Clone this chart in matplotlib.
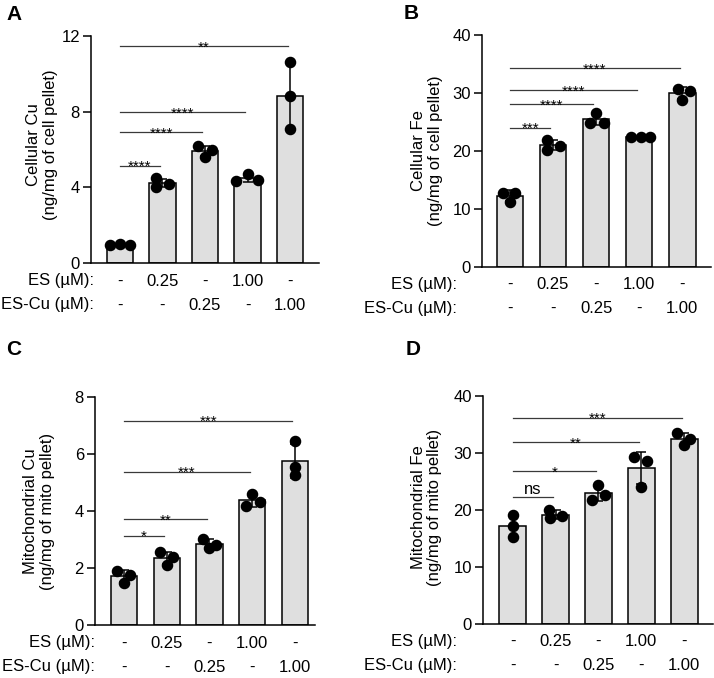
import numpy as np
import matplotlib
matplotlib.use('Agg')
import matplotlib.pyplot as plt
from matplotlib.transforms import ScaledTranslation

plt.rcParams['font.family'] = ['Liberation Sans', 'DejaVu Sans']

# ---------------- data ----------------
es_labels = ['-', '0.25', '-', '1.00', '-']
escu_labels = ['-', '-', '0.25', '-', '1.00']

cell_cu = [[0.95, 0.98, 0.95], [4.48, 4.04, 4.17], [6.18, 5.97, 5.62],
           [4.36, 4.71, 4.39], [10.64, 8.84, 7.07]]
cell_fe = [[12.78, 12.78, 11.23], [21.88, 20.15, 20.9], [26.5, 24.87, 24.87],
           [22.35, 22.4, 22.35], [30.63, 30.4, 28.8]]
mito_cu = [[1.90, 1.76, 1.49], [2.55, 2.38, 2.11], [3.02, 2.81, 2.69],
           [4.60, 4.33, 4.18], [6.44, 5.56, 5.27]]
mito_fe = [[19.07, 17.19, 15.26], [19.95, 18.95, 18.5], [24.34, 22.58, 21.7],
           [29.3, 28.6, 24.05], [33.5, 32.4, 31.4]]

# significance: (comparison bar, line height, label) vs control bar 0
sig_cell_cu = [(1, 5.14, '****'), (2, 6.9, '****'), (3, 7.98, '****'), (4, 11.47, '**')]
sig_cell_fe = [(1, 24.0, '***'), (2, 28.05, '****'), (3, 30.5, '****'), (4, 34.26, '****')]
sig_mito_cu = [(1, 3.14, '*'), (2, 3.71, '**'), (3, 5.37, '***'), (4, 7.17, '***')]
sig_mito_fe = [(1, 22.2, 'ns'), (2, 26.8, '*'), (3, 31.9, '**'), (4, 36.2, '***')]

# horizontal jitter of the individual points (style)
jit_a = [[-0.24, 0, 0.24], [-0.16, -0.16, 0.15], [-0.16, 0.16, 0], [-0.27, 0, 0.24], [0, 0, 0]]
jit_b = [[-0.16, 0.12, 0], [-0.13, -0.13, 0.16], [0, -0.14, 0.19], [-0.2, 0.04, 0.26], [-0.1, 0.19, 0]]
jit_c = [[-0.17, 0.14, 0], [-0.16, 0.14, 0], [-0.16, 0.15, 0], [0, 0.19, -0.14], [0, 0, 0]]
jit_d = [[0, 0, 0], [-0.16, 0.15, -0.14], [0, 0.16, -0.15], [-0.17, 0.14, 0], [-0.16, 0.14, 0]]

W, H = 714, 678
fig = plt.figure(figsize=(W / 100, H / 100), dpi=100)

def rect(left, bottom, right, top):
    return [left / W, 1 - bottom / H, (right - left) / W, (bottom - top) / H]

panels = [
    dict(letter='A', rect=rect(91, 263, 319, 36), xlim=(-0.68, 4.68), ylim=(0, 12),
         yticks=[0, 4, 8, 12], data=cell_cu, jit=jit_a, sig=sig_cell_cu,
         ylabel='Cellular Cu\n(ng/mg of cell pellet)', ylab=(-0.215, 0.52),
         letter_xy=(6, 5), table_dx=3),
    dict(letter='B', rect=rect(482, 266.7, 711, 35), xlim=(-0.65, 4.67), ylim=(0, 40),
         yticks=[0, 10, 20, 30, 40], data=cell_fe, jit=jit_b, sig=sig_cell_fe,
         ylabel='Cellular Fe\n(ng/mg of cell pellet)', ylab=(-0.24, 0.5),
         letter_xy=(404, 4), table_dx=-25),
    dict(letter='C', rect=rect(95, 625, 315, 397), xlim=(-0.68, 4.47), ylim=(0, 8),
         yticks=[0, 2, 4, 6, 8], data=mito_cu, jit=jit_c, sig=sig_mito_cu,
         ylabel='Mitochondrial Cu\n(ng/mg of mito pellet)', ylab=(-0.255, 0.5),
         letter_xy=(6, 340), table_dx=0),
    dict(letter='D', rect=rect(483, 623.5, 713, 396), xlim=(-0.69, 4.67), ylim=(0, 40),
         yticks=[0, 10, 20, 30, 40], data=mito_fe, jit=jit_d, sig=sig_mito_fe,
         ylabel='Mitochondrial Fe\n(ng/mg of mito pellet)', ylab=(-0.246, 0.51),
         letter_xy=(406, 340), table_dx=-26),
]

FS = 12
for p in panels:
    ax = fig.add_axes(p['rect'])
    vals = np.array(p['data'])
    x = np.arange(len(vals))
    means = vals.mean(axis=1)
    sds = vals.std(axis=1, ddof=1)
    ax.bar(x, means, width=0.62, color='#dfdfdf', edgecolor='black', linewidth=1.1, zorder=2)
    ax.errorbar(x, means, yerr=sds, fmt='none', ecolor='black', elinewidth=1.1,
                capsize=3.8, capthick=1.1, zorder=3)
    jit = np.array(p['jit'])
    for i in range(len(vals)):
        ax.plot(x[i] + jit[i], vals[i], 'o', color='black', markersize=7.3,
                zorder=4, clip_on=False)
    for j, h, lab in p['sig']:
        x0, x1 = x[0], x[j] - 0.06
        ax.plot([x0, x1], [h, h], color='#3a3a3a', lw=0.9, zorder=1, clip_on=False)
        if lab == 'ns':
            ax.annotate(lab, xy=((x0 + x1) / 2, h), xytext=(0, 0.5), textcoords='offset points',
                        ha='center', va='bottom', fontsize=FS)
        else:
            ax.annotate(lab, xy=((x0 + x1) / 2, h), xytext=(0, -3.8), textcoords='offset points',
                        ha='center', va='baseline', fontsize=11)
    ax.set_xlim(*p['xlim'])
    ax.set_ylim(*p['ylim'])
    ax.set_yticks(p['yticks'])
    ax.set_xticks([])
    ax.tick_params(axis='y', length=6, width=1.1, labelsize=FS, pad=2)
    for s in ['top', 'right']:
        ax.spines[s].set_visible(False)
    for s in ['left', 'bottom']:
        ax.spines[s].set_linewidth(1.1)
    ax.text(p['ylab'][0], p['ylab'][1], p['ylabel'], transform=ax.transAxes, rotation=90,
            ha='center', va='center', multialignment='center', fontsize=FS,
            linespacing=1.15)
    # condition table
    for row, (name, labs) in enumerate([('ES (µM):', es_labels), ('ES-Cu (µM):', escu_labels)]):
        dy = -(18 + 24 * row) / 100
        tr_lab = ax.transAxes + ScaledTranslation(p['table_dx'] / 100, dy, fig.dpi_scale_trans)
        ax.text(0, 0, name, transform=tr_lab, ha='right', va='center', fontsize=FS)
        tr_val = ax.get_xaxis_transform() + ScaledTranslation(0, dy, fig.dpi_scale_trans)
        for xi, lab in zip(x, labs):
            ax.text(xi, 0, lab, transform=tr_val, ha='center', va='center', fontsize=FS)
    lx, ly = p['letter_xy']
    fig.text(lx / W, 1 - ly / H, p['letter'], ha='left', va='top', fontsize=15, fontweight='bold')

fig.savefig('out.png', dpi=100)
